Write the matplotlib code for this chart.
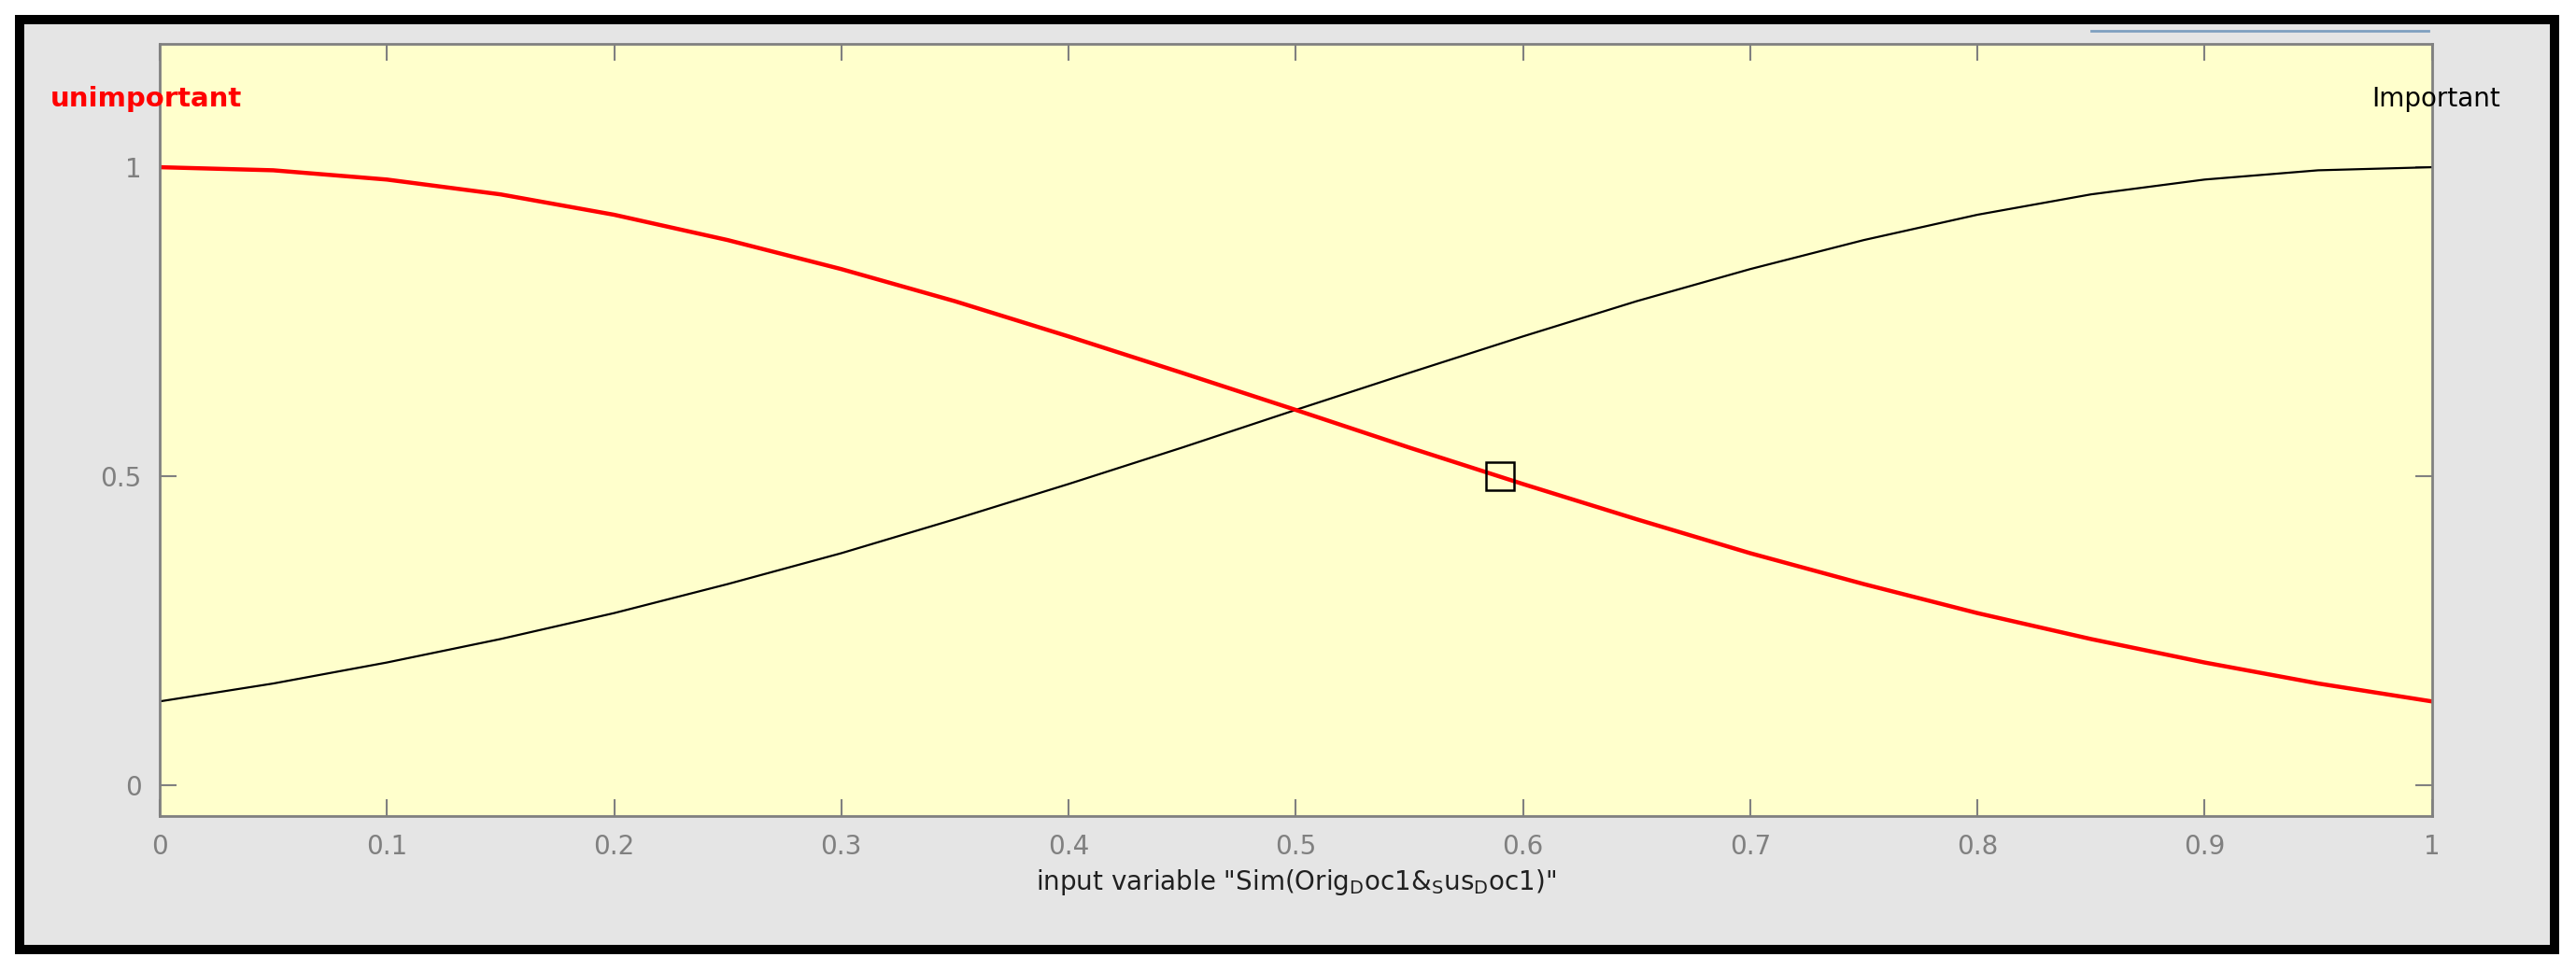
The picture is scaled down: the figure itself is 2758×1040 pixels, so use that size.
import matplotlib
matplotlib.use("Agg")
import matplotlib.pyplot as plt
from matplotlib.patches import Rectangle
from matplotlib.lines import Line2D

x_vals = [0, .05, .1, .15, .2, .25, .3, .35, .4, .45, .5, .55, .6, .65, .7, .75, .8, .85, .9, .95, 1]
unimportant = [1.0, .995, .980, .956, .923, .882, .835, .783, .726, .667, .607, .546, .487, .430, .375, .325, .278, .236, .198, .164, .135]
important = [.135, .164, .198, .236, .278, .325, .375, .430, .487, .546, .607, .667, .726, .783, .835, .882, .923, .956, .980, .995, 1.0]
x_ticks = [0, .1, .2, .3, .4, .5, .6, .7, .8, .9, 1]
x_tick_labels = ["0", "0.1", "0.2", "0.3", "0.4", "0.5", "0.6", "0.7", "0.8", "0.9", "1"]
y_ticks = [0, 0.5, 1]
y_tick_labels = ["0", "0.5", "1"]
marker_pt = (0.59, 0.5)

fig = plt.figure(figsize=(27.58, 10.4), dpi=100)
fig.patch.set_facecolor("white")
fig.patches.append(Rectangle((0.0076, 0.022), 0.9841, 0.958, transform=fig.transFigure,
                             facecolor="#e5e5e5", edgecolor="black", linewidth=7.2, zorder=-5))
fig.lines.append(Line2D([2239/2758, 2600/2758], [1-33/1040]*2, transform=fig.transFigure,
                        color="#7fa0c0", linewidth=2, zorder=-4))

ax = fig.add_axes([0.062, 0.160, 0.882, 0.795])
ax.set_facecolor("#ffffcc")
ax.plot(x_vals, important, color="black", linewidth=1.6)
ax.plot(x_vals, unimportant, color="red", linewidth=3.2)
ax.plot([marker_pt[0]], [marker_pt[1]], marker="s", markersize=22, markerfacecolor="none",
        markeredgecolor="black", markeredgewidth=1.8)
ax.set_xlim(0, 1)
ax.set_ylim(-0.05, 1.2)
ax.set_xticks(x_ticks, x_tick_labels)
ax.set_yticks(y_ticks, y_tick_labels)
ax.tick_params(direction="in", length=13, width=1.5, color="#808080", labelcolor="#808080",
               labelsize=20, top=True, right=True, pad=14)
for s in ax.spines.values():
    s.set_color("#808080")
    s.set_linewidth(2)
ax.set_xlabel('input variable "Sim(Orig$_\\mathregular{D}$oc1&$_\\mathregular{S}$us$_\\mathregular{D}$oc1)"',
              fontsize=20, color="#202020", labelpad=6)
ax.text(-0.048, 1.11, "unimportant", color="red", fontsize=21, fontweight="bold",
        ha="left", va="center", clip_on=False)
ax.text(1.03, 1.11, "Important", color="black", fontsize=20, ha="right", va="center", clip_on=False)

fig.savefig("out.png", dpi=100)
